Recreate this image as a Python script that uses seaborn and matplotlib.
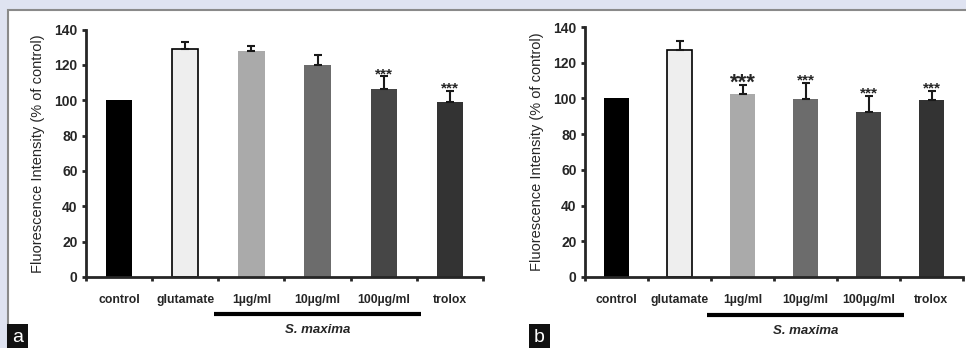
import numpy as np
import pandas as pd
import matplotlib.pyplot as plt
from matplotlib.patches import Rectangle
import seaborn as sns

# data
groups = ['control', 'glutamate', '1µg/ml', '10µg/ml', '100µg/ml', 'trolox']
bar_colors = ['#000000', '#eeeeee', '#aaaaaa', '#6c6c6c', '#464646', '#333333']
mean_a = [100, 129.2, 127.7, 120.2, 106.2, 99.1]
err_a = [0, 3.6, 2.7, 5.5, 7.4, 6.2]
stars_a = ['', '', '', '', '***', '***']
mean_b = [100, 127.3, 102.4, 99.6, 92.3, 99.0]
err_b = [0, 4.9, 5.0, 9.3, 9.0, 5.3]
stars_b = ['', '', '***', '***', '***', '***']
star_size_b = [11, 11, 16, 11, 11, 11]

sns.set_style("ticks")
plt.rcParams['font.family'] = ['Liberation Sans', 'DejaVu Sans']

W, H = 966, 348
fig = plt.figure(figsize=(W / 100, H / 100), dpi=100, facecolor='#dfe3f1')
# white sheet with a grey frame
fig.patches.append(Rectangle((8 / W, -0.01), 1, (H - 10) / H + 0.01,
                             transform=fig.transFigure, facecolor='white',
                             edgecolor='#8a8a8a', lw=1.5, zorder=-5))


def panel(rect, means, errs, stars, star_sizes, letter, letter_x):
    l, t, r, b = rect
    ax = fig.add_axes([l / W, (H - b) / H, (r - l) / W, (b - t) / H])
    ax.set_facecolor('none')
    df = pd.DataFrame({'group': groups, 'value': means})
    sns.barplot(data=df, x='group', y='value', hue='group', palette=bar_colors,
                order=groups, width=0.4, edgecolor='black', linewidth=0,
                legend=False, ax=ax)
    # glutamate bar has a black outline
    ax.patches[1].set_linewidth(1.2)
    xs = np.arange(len(groups))
    for x, m, e in zip(xs, means, errs):
        if e > 0:
            ax.errorbar(x, m, yerr=[[0], [e]], fmt='none', ecolor='#1a1a1a',
                        elinewidth=1.5, capsize=2.6, capthick=1.5, zorder=3)
    for x, m, e, s, fs in zip(xs, means, errs, stars, star_sizes):
        if s:
            ax.text(x, m + e + 1.2, s, ha='center', va='center', fontsize=fs,
                    fontweight='bold', zorder=4)
    ax.set_xlim(-0.5, len(groups) - 0.5)
    ax.set_ylim(0, 140)
    ax.set_yticks(range(0, 141, 20))
    ax.set_yticklabels([str(v) for v in range(0, 141, 20)], fontsize=10,
                       fontweight='bold')
    ax.set_xticks(np.arange(-0.5, len(groups)), minor=True)
    ax.set_xticks(xs)
    ax.set_xticklabels(groups, fontsize=8.8, fontweight='bold')
    ax.tick_params(axis='x', which='major', length=0, pad=12)
    ax.tick_params(axis='x', which='minor', length=3, width=2, direction='out')
    ax.tick_params(axis='y', length=3, width=2, pad=3)
    ax.set_xlabel('')
    ax.set_ylabel('Fluorescence Intensity (% of control)', fontsize=10.5,
                  labelpad=7)
    for sp in ['top', 'right']:
        ax.spines[sp].set_visible(False)
    for sp in ['left', 'bottom']:
        ax.spines[sp].set_linewidth(2)
    ax.spines['bottom'].set_zorder(5)
    # S. maxima bracket under the three extract doses
    tr = ax.get_xaxis_transform()
    ax.plot([1.44, 4.56], [-0.15, -0.15], color='black', lw=3, clip_on=False,
            transform=tr, solid_capstyle='butt')
    ax.text(3.0, -0.215, 'S. maxima', ha='center', va='center', fontsize=9.5,
            fontweight='bold', style='italic', transform=tr)
    fig.text(letter_x / W, 2 / H, letter, ha='left', va='bottom', color='white',
             fontsize=14, bbox=dict(facecolor='#111111', edgecolor='none',
                                    pad=3.5))
    return ax


panel((86, 29.5, 483, 277), mean_a, err_a, stars_a, [11] * 6, 'a', 12)
panel((585, 27, 963, 277), mean_b, err_b, stars_b, star_size_b, 'b', 534)

fig.savefig('out.png', dpi=100, facecolor=fig.get_facecolor())
